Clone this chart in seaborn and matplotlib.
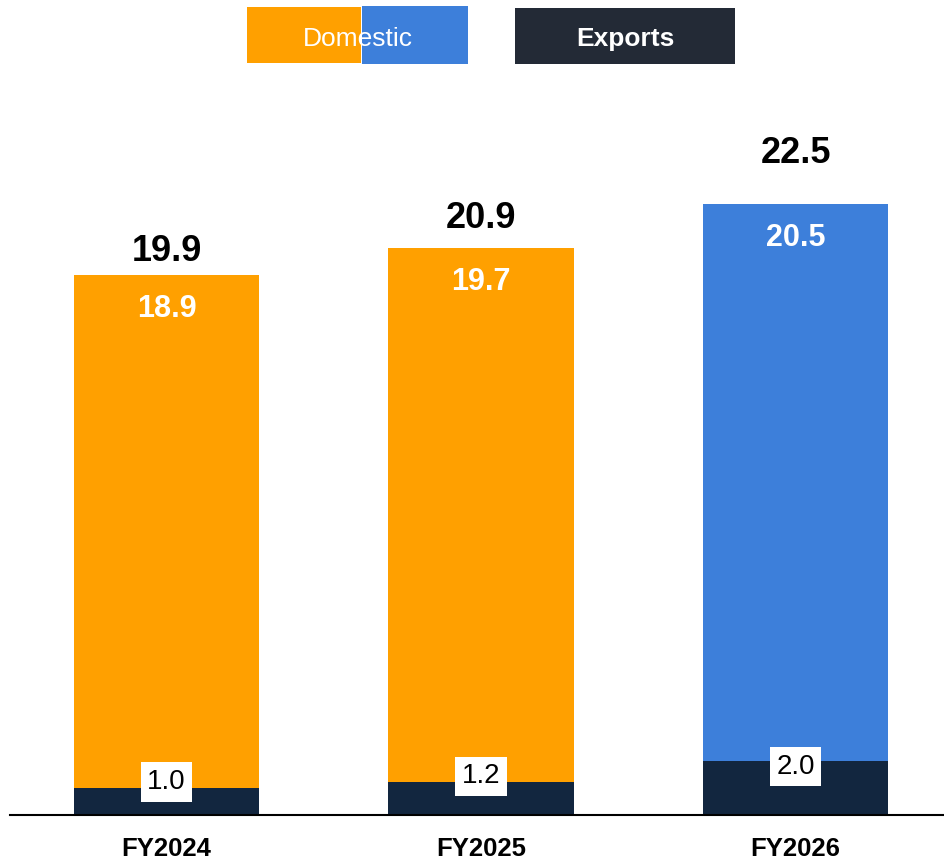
import matplotlib
matplotlib.use("Agg")
import matplotlib.pyplot as plt
from matplotlib.patches import Rectangle
import seaborn as sns

categories = ["FY2024", "FY2025", "FY2026"]
domestic = [18.9, 19.7, 20.5]
exports = [1.0, 1.2, 2.0]
totals = [19.9, 20.9, 22.5]
legend_labels = ["Domestic", "Exports"]

ORANGE = "#FFA000"
BLUE = "#3D7FDA"
NAVY = "#12263F"
LEG_DARK = "#232A36"

sns.set_theme(style="white")
plt.rcParams["font.family"] = ["Liberation Sans", "DejaVu Sans"]

W, H = 944, 859
PX = 72 / 100  # points per pixel
fig = plt.figure(figsize=(W / 100, H / 100), dpi=100)
ax = fig.add_axes([10 / W, 44 / H, 934 / W, 715 / H])

bar_colors = [ORANGE, ORANGE, BLUE]
sns.barplot(x=categories, y=totals, hue=categories, palette=bar_colors,
            width=0.59, saturation=1, legend=False, ax=ax, linewidth=0)
sns.barplot(x=categories, y=exports, color=NAVY, width=0.59, saturation=1,
            ax=ax, linewidth=0)

ax.set_xlim(-0.4976, 2.472)
ax.set_ylim(0, 715 / 27.15)

for s in ["top", "right", "left"]:
    ax.spines[s].set_visible(False)
ax.spines["bottom"].set_color("black")
ax.spines["bottom"].set_linewidth(1.5)
ax.set_yticks([])
ax.set_xlabel("")
ax.set_ylabel("")
ax.tick_params(axis="x", length=0, pad=15.5)
for lab in ax.get_xticklabels():
    lab.set_fontweight("bold")
    lab.set_fontsize(18.5)
    lab.set_color("black")

for i in range(len(categories)):
    # total label
    ax.annotate(f"{totals[i]:.1f}", xy=(i, totals[i] + exports[i]), xytext=(0, -4 * PX),
                textcoords="offset points", ha="center", va="center",
                fontsize=26, fontweight="bold", color="black")
    # domestic label
    ax.annotate(f"{domestic[i]:.1f}", xy=(i, totals[i]), xytext=(0, -34 * PX),
                textcoords="offset points", ha="center", va="center",
                fontsize=22, fontweight="bold", color="white")
    # exports label: above the segment top if short, just inside if tall enough
    seg_px = exports[i] * 27.15
    off = 6 if seg_px < 45 else -6
    ax.annotate(f"{exports[i]:.1f}", xy=(i, exports[i]), xytext=(0, off * PX),
                textcoords="offset points", ha="center", va="center",
                fontsize=20, color="black",
                bbox=dict(boxstyle="square,pad=0.24", fc="white", ec="none"))

# custom legend
def frect(x0, y0, x1, y1, color):
    fig.add_artist(Rectangle((x0 / W, 1 - y1 / H), (x1 - x0) / W, (y1 - y0) / H,
                             transform=fig.transFigure, facecolor=color,
                             edgecolor="none"))

frect(247, 7, 361, 63, ORANGE)
frect(362, 6, 468, 64, BLUE)
frect(515, 8, 735, 64, LEG_DARK)
fig.text(358 / W, 1 - 39 / H, legend_labels[0], ha="center", va="center",
         fontsize=19, color="white")
fig.text(625 / W, 1 - 39 / H, legend_labels[1], ha="center", va="center",
         fontsize=19, fontweight="bold", color="white")

fig.savefig("out.png", dpi=100)
